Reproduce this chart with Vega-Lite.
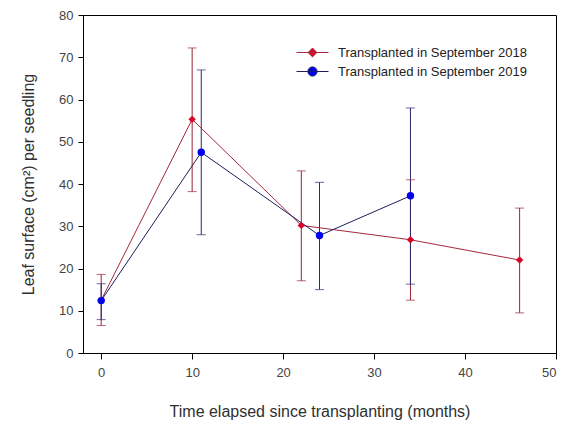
{
  "$schema": "https://vega.github.io/schema/vega-lite/v6.json",
  "width": 473,
  "height": 338,
  "autosize": "none",
  "padding": {"left": 83, "top": 15, "right": 8, "bottom": 71},
  "background": "white",
  "config": {
    "font": "Liberation Sans",
    "view": {"stroke": "black", "strokeWidth": 1},
    "axis": {"grid": false, "domainColor": "black", "tickColor": "black", "labelFont": "Liberation Sans", "titleFont": "Liberation Sans", "labelFontSize": 13, "titleFontSize": 16, "labelColor": "#444444", "titleColor": "#303030", "titleFontWeight": "normal"},
    "legend": {"title": null, "orient": "none", "padding": 0, "labelOffset": 19, "symbolSize": 64, "symbolStrokeWidth": 1, "labelFontSize": 13, "labelFont": "Liberation Sans", "labelColor": "#222222", "labelLimit": 400}
  },
  "data": {"values": [
    {"series": "Transplanted in September 2018", "month": 0, "mean": 12.5, "lo": 6.5, "hi": 18.6},
    {"series": "Transplanted in September 2018", "month": 10, "mean": 55.3, "lo": 38.2, "hi": 72.2},
    {"series": "Transplanted in September 2018", "month": 22, "mean": 30.2, "lo": 17.1, "hi": 43.1},
    {"series": "Transplanted in September 2018", "month": 34, "mean": 26.8, "lo": 12.5, "hi": 41.0},
    {"series": "Transplanted in September 2018", "month": 46, "mean": 22.0, "lo": 9.5, "hi": 34.3},
    {"series": "Transplanted in September 2019", "month": 0, "mean": 12.4, "lo": 7.9, "hi": 16.4},
    {"series": "Transplanted in September 2019", "month": 11, "mean": 47.5, "lo": 28.0, "hi": 67.0},
    {"series": "Transplanted in September 2019", "month": 24, "mean": 27.8, "lo": 15.0, "hi": 40.4},
    {"series": "Transplanted in September 2019", "month": 34, "mean": 37.2, "lo": 16.3, "hi": 58.0}
  ]},
  "layer": [
    {
      "mark": {"type": "rule", "strokeWidth": 1},
      "encoding": {
        "x": {"field": "month", "type": "quantitative", "scale": {"domain": [-2, 50], "nice": false, "zero": false},
              "axis": {"values": [0, 10, 20, 30, 40, 50], "tickSize": 6, "labelPadding": 7, "titlePadding": 24, "title": "Time elapsed since transplanting (months)"}},
        "y": {"field": "lo", "type": "quantitative", "scale": {"domain": [0, 80], "nice": false},
              "axis": {"values": [0, 10, 20, 30, 40, 50, 60, 70, 80], "tickSize": 5, "labelPadding": 5, "titlePadding": 22, "title": "Leaf surface (cm²) per seedling"}},
        "y2": {"field": "hi"},
        "color": {"field": "series", "type": "nominal", "scale": {"range": ["#9b2335", "#2a2a72"]}, "legend": null}
      }
    },
    {
      "mark": {"type": "tick", "orient": "horizontal", "size": 9, "thickness": 1},
      "encoding": {
        "x": {"field": "month", "type": "quantitative"},
        "y": {"field": "hi", "type": "quantitative"},
        "color": {"field": "series", "type": "nominal", "scale": {"range": ["#9b2335", "#2a2a72"]}, "legend": null}
      }
    },
    {
      "mark": {"type": "tick", "orient": "horizontal", "size": 9, "thickness": 1},
      "encoding": {
        "x": {"field": "month", "type": "quantitative"},
        "y": {"field": "lo", "type": "quantitative"},
        "color": {"field": "series", "type": "nominal", "scale": {"range": ["#9b2335", "#2a2a72"]}, "legend": null}
      }
    },
    {
      "mark": {"type": "line", "strokeWidth": 1},
      "encoding": {
        "x": {"field": "month", "type": "quantitative"},
        "y": {"field": "mean", "type": "quantitative"},
        "color": {"field": "series", "type": "nominal", "scale": {"range": ["#a3283c", "#1e1e5e"]}, "legend": null}
      }
    },
    {
      "transform": [{"filter": "datum.series === 'Transplanted in September 2018'"}],
      "mark": {"type": "point", "filled": true, "opacity": 1, "size": 55, "shape": "diamond"},
      "encoding": {
        "x": {"field": "month", "type": "quantitative"},
        "y": {"field": "mean", "type": "quantitative"},
        "color": {"field": "series", "type": "nominal", "scale": {"domain": ["Transplanted in September 2018"], "range": ["#d8062a"]},
          "legend": {"legendX": 223, "legendY": 31, "symbolType": "M-4,0L4,0M0,-1.1L1.1,0L0,1.1L-1.1,0Z", "symbolStrokeColor": "#a3283c"}}
      }
    },
    {
      "transform": [{"filter": "datum.series === 'Transplanted in September 2019'"}],
      "mark": {"type": "point", "filled": true, "opacity": 1, "size": 55, "shape": "circle"},
      "encoding": {
        "x": {"field": "month", "type": "quantitative"},
        "y": {"field": "mean", "type": "quantitative"},
        "color": {"field": "series", "type": "nominal", "scale": {"domain": ["Transplanted in September 2019"], "range": ["#0000ee"]},
          "legend": {"legendX": 223, "legendY": 50, "symbolType": "M-4,0L4,0M-1.15,0A1.15,1.15,0,1,1,1.15,0A1.15,1.15,0,1,1,-1.15,0Z", "symbolStrokeColor": "#1e1e5e"}}
      }
    }
  ],
  "resolve": {"scale": {"color": "independent"}}
}
